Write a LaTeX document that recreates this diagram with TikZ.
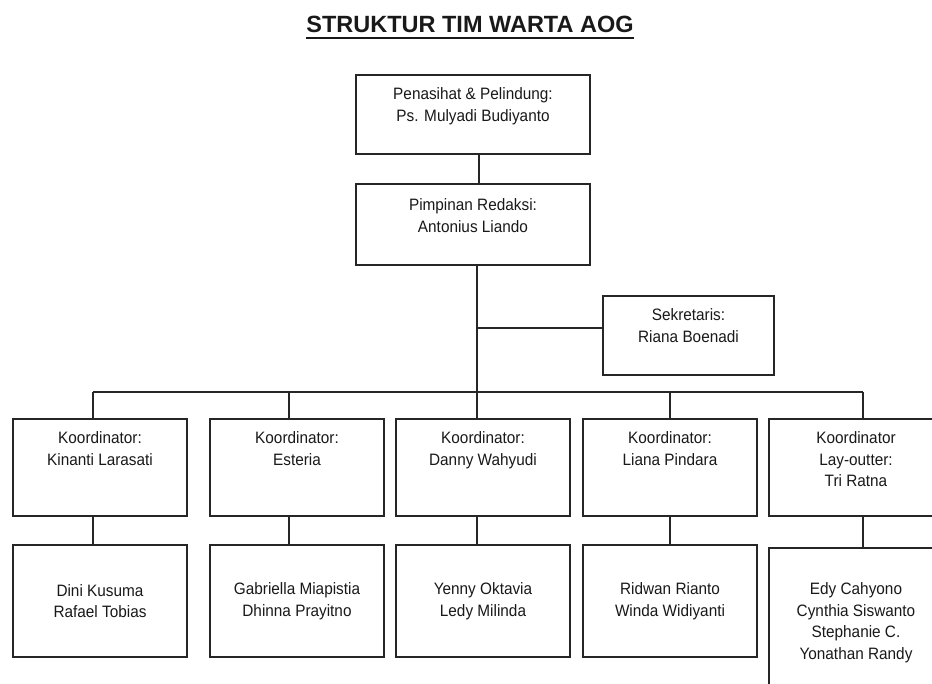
\documentclass[tikz,border=0pt]{standalone}
\usepackage{fontspec}
\setmainfont{Liberation Sans}
\newfontfamily\boxfont[FakeStretch=0.93]{Liberation Sans}
\begin{document}
\begin{tikzpicture}[x=1pt,y=-1pt,
  box/.style={draw=black!85, line width=1.3pt, rectangle, inner sep=0pt, align=center,
    font=\boxfont\fontsize{16.5}{21.5}\selectfont, text=black!90},
  lbl/.style={inner sep=0pt, align=center, font=\boxfont\fontsize{16.5}{21.5}\selectfont, text=black!90, anchor=north},
  conn/.style={draw=black!85, line width=1.3pt},
  kbox/.style={box, minimum width=174pt, minimum height=97pt},
  mbox/.style={box, minimum width=174pt, minimum height=112pt}]
\clip (0,0) rectangle (932,684);
\fill[white] (0,0) rectangle (932,684);

% title
\node[font=\fontsize{23.5}{28}\selectfont\bfseries, anchor=base, inner sep=0pt, text=black!90] (title) at (470,33) {STRUKTUR TIM WARTA AOG};
\draw[line width=2.5pt, black!90] ([yshift=-5pt]title.base west) -- ([yshift=-5pt]title.base east);

% top boxes
\node[box, minimum width=234pt, minimum height=79pt] (pen) at (473,114.5) {};
\node[lbl] (penT) at ([yshift=-13pt]pen.north) {Penasihat \& Pelindung:\\Ps. Mulyadi Budiyanto};
\node[box, minimum width=234pt, minimum height=81pt] (pim) at (473,224.5) {};
\node[lbl] (pimT) at ([yshift=-15pt]pim.north) {Pimpinan Redaksi:\\Antonius Liando};
\node[box, minimum width=171pt, minimum height=79pt] (sek) at (688.5,335.5) {};
\node[lbl] (sekT) at ([yshift=-13pt]sek.north) {Sekretaris:\\Riana Boenadi};

% coordinators
\node[kbox] (k1) at (100,467.5) {};
\node[kbox] (k2) at (297,467.5) {};
\node[kbox] (k3) at (483,467.5) {};
\node[kbox] (k4) at (670,467.5) {};
\node[kbox] (k5) at (856,467.5) {};
\node[lbl] (k1T) at ([yshift=-13pt]k1.north) {Koordinator:\\Kinanti Larasati};
\node[lbl] (k2T) at ([yshift=-13pt]k2.north) {Koordinator:\\Esteria};
\node[lbl] (k3T) at ([yshift=-13pt]k3.north) {Koordinator:\\Danny Wahyudi};
\node[lbl] (k4T) at ([yshift=-13pt]k4.north) {Koordinator:\\Liana Pindara};
\node[lbl] (k5T) at ([yshift=-13pt]k5.north) {Koordinator\\Lay-outter:\\Tri Ratna};

% members
\node[mbox] (m1) at (100,601) {Dini Kusuma\\Rafael Tobias};
\node[mbox] (m2) at (297,601) {Gabriella Miapistia\\Dhinna Prayitno};
\node[mbox] (m3) at (483,601) {Yenny Oktavia\\Ledy Milinda};
\node[mbox] (m4) at (670,601) {Ridwan Rianto\\Winda Widiyanti};
\node[box, minimum width=174pt, minimum height=149pt] (m5) at (856,622.5) {Edy Cahyono\\Cynthia Siswanto\\Stephanie C.\\Yonathan Randy};

% connectors
\coordinate (c0) at (479,0);
\draw[conn] (pen.south -| c0) -- (pim.north -| c0);
\coordinate (b1) at (93,392);
\coordinate (b2) at (289,392);
\coordinate (b3) at (477,392);
\coordinate (b4) at (670,392);
\coordinate (b5) at (863,392);
\coordinate (sj) at (477,328);
\draw[conn] (pim.south -| b3) -- (b3);
\draw[conn] (sj) -- (sj -| sek.west);
\draw[conn] (b1) -- (b5);
\foreach \i in {1,...,5}{
  \draw[conn] (b\i) -- (b\i |- k\i.north);
  \draw[conn] (k\i.south -| b\i) -- (m\i.north -| b\i);
}
\end{tikzpicture}
\end{document}
